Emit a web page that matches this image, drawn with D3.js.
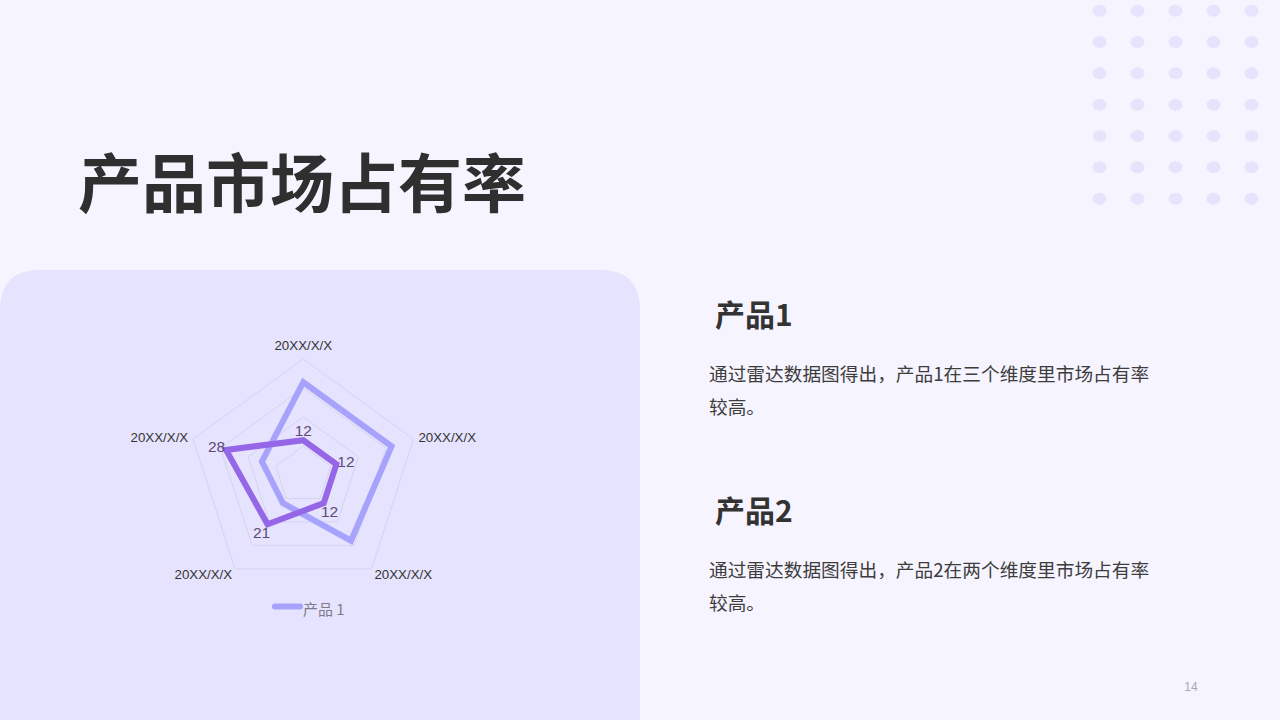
<!DOCTYPE html>
<html><head><meta charset="utf-8">
<script src="https://cdn.jsdelivr.net/npm/d3@7"></script>
<style>
html,body{margin:0;padding:0;background:#f6f4fe;}
svg{display:block;}
</style></head>
<body>
<svg id="c" width="1280" height="720"></svg>
<script>
// ---- data ----
const indicators = ["20XX/X/X","20XX/X/X","20XX/X/X","20XX/X/X","20XX/X/X"];
const maxValue = 40;
const ringCount = 4;
const series1Name = "产品 1";
const series1 = [32, 32, 28, 12, 15];
const series2 = [12, 12, 12, 21, 28];
const titleText = "产品市场占有率";
const headings = ["产品1", "产品2"];
const paragraphs = [
  ["通过雷达数据图得出，产品1在三个维度里市场占有率", "较高。"],
  ["通过雷达数据图得出，产品2在两个维度里市场占有率", "较高。"]
];
const pageNumber = "14";

const svg = d3.select("#c");
const CJK = "'Noto Sans CJK SC','Noto Sans',sans-serif";
const LAT = "'Liberation Sans',Arial,sans-serif";

// background
svg.append("rect").attr("width",1280).attr("height",720).attr("fill","#f6f4fe");

// dot grid
const dotCols = d3.range(5), dotRows = d3.range(7);
const dx = d3.scaleLinear().domain([0,4]).range([1099.5,1251.5]);
const dy = d3.scaleLinear().domain([0,6]).range([10.7,198.7]);
dotRows.forEach(r => dotCols.forEach(c => {
  svg.append("ellipse").attr("cx",dx(c)).attr("cy",dy(r)).attr("rx",7).attr("ry",6).attr("fill","#e6e3fd");
}));

// panel with rounded top corners
const px0=0, py0=270, px1=640, py1=720, pr=40;
svg.append("path")
  .attr("d",`M${px0},${py1} L${px0},${py0+pr} Q${px0},${py0} ${px0+pr},${py0} L${px1-pr},${py0} Q${px1},${py0} ${px1},${py0+pr} L${px1},${py1} Z`)
  .attr("fill","#e6e3fe");

// title
svg.append("text").attr("x",78).attr("y",179).attr("dominant-baseline","central")
  .attr("font-family",CJK).attr("font-weight",700).attr("font-size",64).attr("fill","#2f2f2f")
  .text(titleText);

// right side text
const headY = [313, 509];
headings.forEach((h,i)=>{
  svg.append("text").attr("x",715).attr("y",headY[i]).attr("dominant-baseline","central")
    .attr("font-family",CJK).attr("font-weight",700).attr("font-size",30).attr("fill","#333")
    .text(h);
  paragraphs[i].forEach((line,j)=>{
    svg.append("text").attr("x",709).attr("y",headY[i]+59+j*33.5).attr("dominant-baseline","central")
      .attr("font-family",CJK).attr("font-size",18.7).attr("fill","#3d3d3d")
      .text(line);
  });
});

// page number
svg.append("text").attr("x",1191).attr("y",687).attr("text-anchor","middle").attr("dominant-baseline","central")
  .attr("font-family",LAT).attr("font-size",12).attr("fill","#a8a8b0").text(pageNumber);

// ---- radar ----
const cx = 303.3, cy = 475, R = 116;
const n = indicators.length;
const ang = d3.scaleLinear().domain([0,n]).range([0, 2*Math.PI]);
const rScale = d3.scaleLinear().domain([0,maxValue]).range([0,R]);
const pt = (i, r) => [cx + r*Math.sin(ang(i)), cy - r*Math.cos(ang(i))];
const g = svg.append("g");

// rings
d3.range(1, ringCount+1).forEach(k=>{
  const rr = rScale(maxValue*k/ringCount);
  g.append("path")
    .attr("d", d3.line()(d3.range(n).map(i=>pt(i,rr))) + "Z")
    .attr("fill","none").attr("stroke","#d7d3ec").attr("stroke-width",1);
});

// axis names
indicators.forEach((name,i)=>{
  const s = Math.sin(ang(i)), c = Math.cos(ang(i));
  const [x,y] = pt(i, R+5);
  let anchor = Math.abs(s)<0.01 ? "middle" : (s>0 ? "start" : "end");
  let ty = y;
  if (Math.abs(s)<0.01 && c>0) ty = cy - R - 14;
  else if (c < 0) ty = y + 2;
  g.append("text").attr("x",x).attr("y",ty).attr("text-anchor",anchor).attr("dominant-baseline","central")
    .attr("font-family",LAT).attr("font-size",13.3).attr("fill","#333").text(name);
});

const radarLine = vals => d3.line()(vals.map((v,i)=>pt(i, rScale(v)))) + "Z";

g.append("path").attr("d", radarLine(series1))
  .attr("fill","none").attr("stroke","#a7a3fd").attr("stroke-width",6).attr("stroke-linejoin","miter");
g.append("path").attr("d", radarLine(series2))
  .attr("fill","none").attr("stroke","#9567e6").attr("stroke-width",6).attr("stroke-linejoin","miter");

// labels for series 2
series2.forEach((v,i)=>{
  const [x,y] = pt(i, rScale(v)+10);
  g.append("text").attr("x",x).attr("y",y).attr("text-anchor","middle").attr("dominant-baseline","central")
    .attr("font-family",LAT).attr("font-size",15.5).attr("fill","#5d4a78").text(v);
});

// legend
const leg = svg.append("g");
leg.append("line").attr("x1",275).attr("x2",300).attr("y1",606.5).attr("y2",606.5)
  .attr("stroke","#a7a3fd").attr("stroke-width",6).attr("stroke-linecap","round");
leg.append("text").attr("x",303).attr("y",608).attr("dominant-baseline","central")
  .attr("font-family",CJK).attr("font-size",15).attr("fill","#7d7c88").text(series1Name);
</script>
</body></html>
